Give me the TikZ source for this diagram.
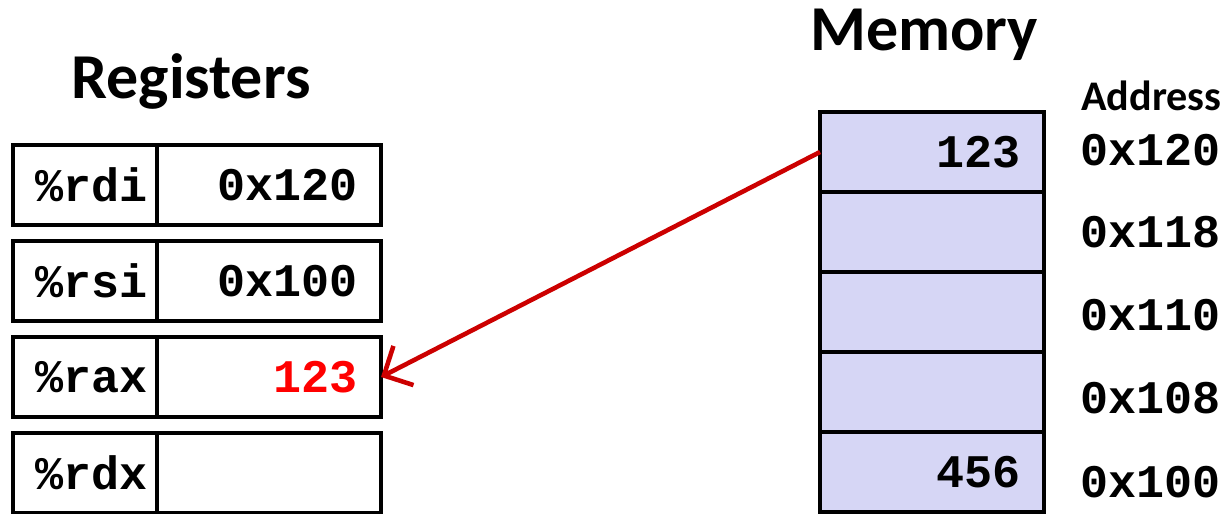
\documentclass[tikz,border=0pt]{standalone}
\usepackage{fontspec}
\setmainfont{Carlito}
\setmonofont{Liberation Mono}
\usetikzlibrary{arrows.meta,positioning}
\definecolor{memfill}{RGB}{214,214,245}
\definecolor{movered}{RGB}{204,0,0}

\begin{document}
\begin{tikzpicture}[font=\ttfamily\bfseries\fontsize{13.3}{15}\selectfont, line width=1.3pt,
	cell/.style={draw, rectangle, outer sep=0pt, inner ysep=0pt, minimum height=0.8cm},
	regname/.style={cell, text width=1.0cm, inner xsep=0.22cm, align=left},
	regval/.style={cell, text width=1.78cm, inner xsep=0.23cm, align=right},
	memcell/.style={regval, fill=memfill},
	title/.style={font=\rmfamily\bfseries\fontsize{18.2}{21}\selectfont}]
	\useasboundingbox (0,0) rectangle (12.25,5.13);
	% registers
	\node[title, anchor=base] (regtitle) at (1.91,4.15) {Registers};
	\node[regname] (rdi) at (0.85,3.28) {\%rdi};
	\node[regval, right=0pt of rdi] (rdival) {0x120};
	\node[regname] (rsi) at (0.85,2.32) {\%rsi};
	\node[regval, right=0pt of rsi] (rsival) {0x100};
	\node[regname] (rax) at (0.85,1.36) {\%rax};
	\node[regval, right=0pt of rax, text=red] (raxval) {123};
	\node[regname] (rdx) at (0.85,0.40) {\%rdx};
	\node[regval, right=0pt of rdx] (rdxval) {};
	% memory
	\node[title, anchor=base] (memtitle) at (9.24,4.63) {Memory};
	\node[memcell] (m0) at (9.32,3.61) {123};
	\node[memcell, below=0pt of m0] (m1) {};
	\node[memcell, below=0pt of m1] (m2) {};
	\node[memcell, below=0pt of m2] (m3) {};
	\node[memcell, below=0pt of m3] (m4) {456};
	% addresses
	\node[font=\rmfamily\bfseries\fontsize{12}{14}\selectfont, anchor=base west, inner sep=0pt] (addr) at (10.79,4.03) {Address};
	\node[anchor=base west, inner sep=0pt] (a0) at (10.78,3.48) {0x120};
	\node[anchor=base west, inner sep=0pt] (a1) at (10.78,2.66) {0x118};
	\node[anchor=base west, inner sep=0pt] (a2) at (10.78,1.83) {0x110};
	\node[anchor=base west, inner sep=0pt] (a3) at (10.78,1.00) {0x108};
	\node[anchor=base west, inner sep=0pt] (a4) at (10.78,0.16) {0x100};
	% the load
	\draw[movered, -{Straight Barb[length=2.2mm,width=4.4mm]}] (m0.west) -- (raxval.east);
\end{tikzpicture}
\end{document}
